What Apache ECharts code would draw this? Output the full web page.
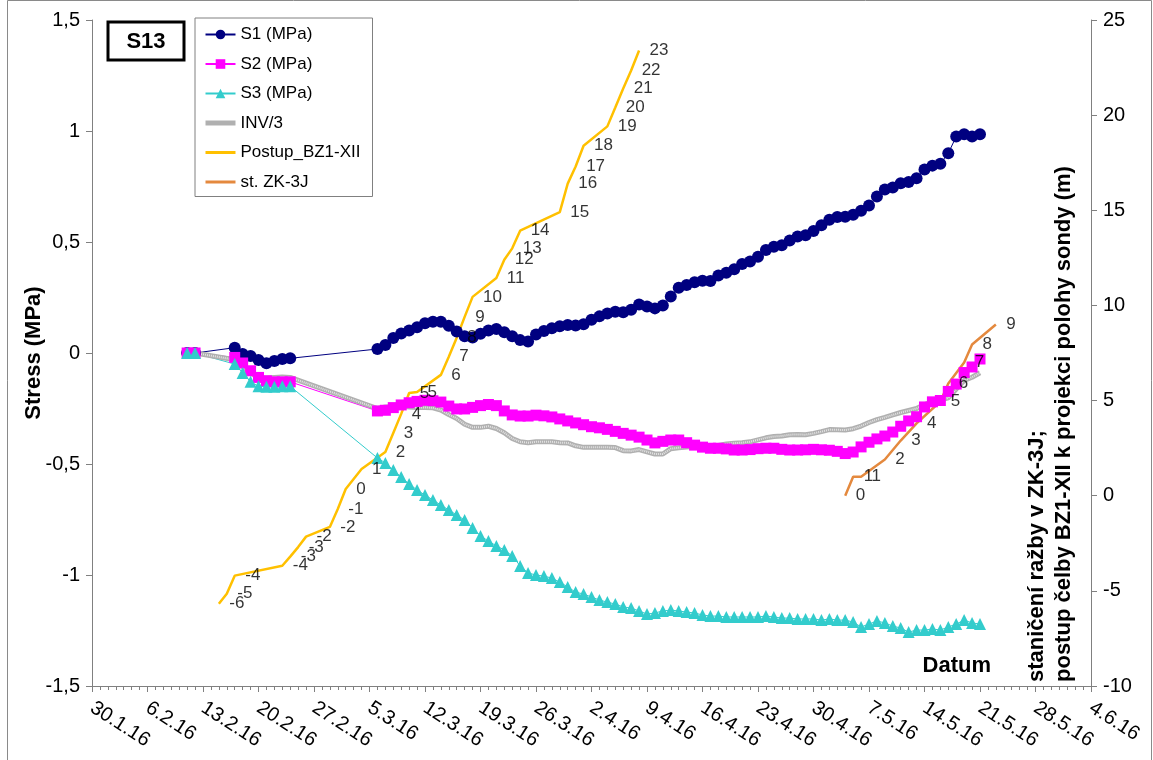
<!DOCTYPE html>
<html>
<head>
<meta charset="utf-8">
<script src="https://cdn.jsdelivr.net/npm/echarts@6/dist/echarts.min.js"></script>
<style>
html,body{margin:0;padding:0;background:#fff;}
#chart{width:1153px;height:760px;}
</style>
</head>
<body>
<div id="chart"></div>
<script>
// ---------- data ----------
const xTickLabels = ['30.1.16','6.2.16','13.2.16','20.2.16','27.2.16','5.3.16','12.3.16','19.3.16','26.3.16','2.4.16','9.4.16','16.4.16','23.4.16','30.4.16','7.5.16','14.5.16','21.5.16','28.5.16','4.6.16'];

const stressDates = [
'2016-02-11','2016-02-12',
'2016-02-17','2016-02-18','2016-02-19','2016-02-20','2016-02-21','2016-02-22','2016-02-23','2016-02-24',
'2016-03-06','2016-03-07','2016-03-08','2016-03-09','2016-03-10','2016-03-11','2016-03-12','2016-03-13','2016-03-14','2016-03-15',
'2016-03-16','2016-03-17','2016-03-18','2016-03-19','2016-03-20','2016-03-21','2016-03-22','2016-03-23','2016-03-24','2016-03-25',
'2016-03-26','2016-03-27','2016-03-28','2016-03-29','2016-03-30','2016-03-31','2016-04-01','2016-04-02','2016-04-03','2016-04-04',
'2016-04-05','2016-04-06','2016-04-07','2016-04-08','2016-04-09','2016-04-10','2016-04-11','2016-04-12','2016-04-13','2016-04-14',
'2016-04-15','2016-04-16','2016-04-17','2016-04-18','2016-04-19','2016-04-20','2016-04-21','2016-04-22','2016-04-23','2016-04-24',
'2016-04-25','2016-04-26','2016-04-27','2016-04-28','2016-04-29','2016-04-30','2016-05-01','2016-05-02','2016-05-03','2016-05-04',
'2016-05-05','2016-05-06','2016-05-07','2016-05-08','2016-05-09','2016-05-10','2016-05-11','2016-05-12','2016-05-13','2016-05-14',
'2016-05-15','2016-05-16','2016-05-17','2016-05-18','2016-05-19','2016-05-20','2016-05-21'
];

const s1 = [0,0,
0.024,-0.005,-0.014,-0.032,-0.046,-0.036,-0.027,-0.024,
0.018,0.036,0.068,0.088,0.101,0.116,0.134,0.141,0.141,0.123,
0.097,0.075,0.070,0.087,0.101,0.108,0.093,0.075,0.058,0.052,
0.083,0.099,0.111,0.121,0.126,0.124,0.129,0.150,0.165,0.178,
0.186,0.184,0.195,0.218,0.209,0.201,0.214,0.254,0.294,0.306,
0.319,0.325,0.324,0.349,0.362,0.377,0.401,0.412,0.434,0.464,
0.479,0.485,0.507,0.525,0.530,0.550,0.575,0.600,0.613,0.614,
0.623,0.641,0.664,0.705,0.737,0.746,0.765,0.770,0.787,0.827,
0.844,0.853,0.900,0.975,0.985,0.975,0.985];

const s2 = [0,0,
-0.02,-0.045,-0.08,-0.11,-0.125,-0.13,-0.13,-0.13,
-0.261,-0.258,-0.246,-0.234,-0.224,-0.218,-0.213,-0.215,-0.221,-0.239,
-0.252,-0.252,-0.245,-0.237,-0.232,-0.237,-0.261,-0.279,-0.284,-0.284,
-0.280,-0.283,-0.288,-0.297,-0.306,-0.315,-0.323,-0.332,-0.337,-0.344,
-0.353,-0.362,-0.370,-0.379,-0.392,-0.405,-0.398,-0.392,-0.392,-0.404,
-0.415,-0.424,-0.429,-0.429,-0.432,-0.437,-0.437,-0.435,-0.431,-0.429,
-0.429,-0.434,-0.437,-0.437,-0.436,-0.434,-0.436,-0.438,-0.443,-0.453,
-0.446,-0.423,-0.402,-0.387,-0.374,-0.356,-0.330,-0.306,-0.287,-0.243,
-0.220,-0.214,-0.173,-0.140,-0.088,-0.063,-0.027];

const s3 = [0,0,
-0.05,-0.09,-0.13,-0.15,-0.152,-0.152,-0.15,-0.15,
-0.473,-0.495,-0.527,-0.559,-0.590,-0.617,-0.640,-0.662,-0.685,-0.707,
-0.730,-0.752,-0.788,-0.824,-0.847,-0.869,-0.887,-0.914,-0.959,-0.991,
-1.000,-1.005,-1.014,-1.032,-1.054,-1.077,-1.086,-1.099,-1.113,-1.122,
-1.131,-1.144,-1.149,-1.162,-1.176,-1.171,-1.162,-1.158,-1.162,-1.167,
-1.171,-1.180,-1.185,-1.185,-1.189,-1.189,-1.189,-1.189,-1.189,-1.185,
-1.189,-1.194,-1.194,-1.198,-1.198,-1.198,-1.203,-1.198,-1.203,-1.203,
-1.212,-1.234,-1.221,-1.207,-1.216,-1.230,-1.239,-1.257,-1.248,-1.248,
-1.243,-1.248,-1.234,-1.221,-1.203,-1.216,-1.221];

const inv3 = [0,0,
-0.03,-0.06,-0.09,-0.11,-0.113,-0.11,-0.108,-0.11,
-0.250,-0.243,-0.241,-0.239,-0.243,-0.245,-0.245,-0.247,-0.257,-0.277,
-0.295,-0.321,-0.335,-0.335,-0.330,-0.340,-0.359,-0.385,-0.400,-0.404,
-0.400,-0.400,-0.400,-0.404,-0.405,-0.418,-0.425,-0.425,-0.425,-0.425,
-0.426,-0.440,-0.441,-0.435,-0.445,-0.455,-0.455,-0.431,-0.427,-0.423,
-0.420,-0.428,-0.430,-0.417,-0.410,-0.406,-0.404,-0.400,-0.391,-0.382,
-0.376,-0.374,-0.368,-0.367,-0.368,-0.362,-0.354,-0.345,-0.346,-0.347,
-0.341,-0.329,-0.313,-0.300,-0.290,-0.279,-0.268,-0.259,-0.250,-0.232,
-0.219,-0.212,-0.202,-0.162,-0.124,-0.109,-0.089];

const postupDates = ['2016-02-15','2016-02-16','2016-02-17','2016-02-23','2016-02-24','2016-02-25','2016-02-26','2016-02-29','2016-03-01','2016-03-02','2016-03-04','2016-03-07','2016-03-08','2016-03-09','2016-03-10','2016-03-11','2016-03-14','2016-03-15','2016-03-16','2016-03-17','2016-03-18','2016-03-21','2016-03-22','2016-03-23','2016-03-24','2016-03-29','2016-03-30','2016-03-31','2016-04-01','2016-04-04','2016-04-05','2016-04-06','2016-04-07','2016-04-08'];
const postup = [-5.68,-5.15,-4.2,-3.68,-3.2,-2.7,-2.15,-1.64,-0.7,0.35,1.4,2.3,3.3,4.3,5.4,5.45,6.35,7.3,8.3,9.4,10.45,11.44,12.4,13.0,13.93,14.9,16.4,17.3,18.39,19.41,20.4,21.4,22.35,23.4];
const postupLabels = ['-6','-5','-4','-4','-3','-3','-2','-2','-1','0','1','2','3','4','5','5','6','7','8','9','10','11','12','13','14','15','16','17','18','19','20','21','22','23'];

const zkDates = ['2016-05-04','2016-05-05','2016-05-06','2016-05-09','2016-05-11','2016-05-13','2016-05-16','2016-05-17','2016-05-19','2016-05-20','2016-05-23'];
const zk = [0,1,1,1.9,2.9,3.8,4.95,5.9,7.0,7.95,9.0];
const zkLabels = ['0','1','1','2','3','4','5','6','7','8','9'];

// ---------- helpers ----------
const BASE = Date.UTC(2016,0,30);
function dayOf(s){ const p = s.split('-').map(Number); return (Date.UTC(p[0],p[1]-1,p[2]) - BASE)/86400000; }
function pairs(dates, vals){ return vals.map((v,i)=>[dayOf(dates[i]), v]); }

const FONT = "'Liberation Sans', Arial, sans-serif";
const chart = echarts.init(document.getElementById('chart'), null, {renderer:'canvas'});

const option = {
  animation:false,
  backgroundColor:'#ffffff',
  textStyle:{fontFamily:FONT},
  grid:{left:92, right:62, top:20, bottom:74, containLabel:false},
  legend:{
    orient:'vertical', left:195, top:18,
    itemWidth:30, itemHeight:12, itemGap:12.5,
    padding:[8,12,6,8],
    borderColor:'#808080', borderWidth:1, backgroundColor:'#fff',
    textStyle:{fontFamily:FONT, fontSize:17, color:'#000'},
    data:['S1 (MPa)','S2 (MPa)','S3 (MPa)',
      {name:'INV/3', itemStyle:{opacity:0}, lineStyle:{width:5, color:'#b0b0b0'}},
      {name:'Postup_BZ1-XII', itemStyle:{opacity:0}, lineStyle:{width:3, color:'#FFC000'}},
      {name:'st. ZK-3J', itemStyle:{opacity:0}, lineStyle:{width:3, color:'#E4893E'}}]
  },
  xAxis:{
    type:'value', min:0, max:126, interval:7,
    axisLine:{onZero:false, lineStyle:{color:'#808080'}},
    axisTick:{length:6, lineStyle:{color:'#808080'}},
    minorTick:{show:true, splitNumber:7, length:4, lineStyle:{color:'#808080'}},
    splitLine:{show:false},
    axisLabel:{rotate:-33, margin:20, fontFamily:FONT, fontSize:20, color:'#000',
      formatter:v=>xTickLabels[Math.round(v/7)] || ''}
  },
  yAxis:[{
    type:'value', min:-1.5, max:1.5, interval:0.5, position:'left',
    axisLine:{show:true, onZero:false, lineStyle:{color:'#808080'}},
    axisTick:{show:true, length:6, lineStyle:{color:'#808080'}},
    splitLine:{show:false},
    axisLabel:{fontFamily:FONT, fontSize:20, color:'#000', margin:12,
      formatter:v=>String(v).replace('.',',')}
  },{
    type:'value', min:-10, max:25, interval:5, position:'right',
    axisLine:{show:true, onZero:false, lineStyle:{color:'#808080'}},
    axisTick:{show:true, length:6, lineStyle:{color:'#808080'}},
    splitLine:{show:false},
    axisLabel:{fontFamily:FONT, fontSize:20, color:'#000', margin:12}
  }],
  series:[
    {name:'S1 (MPa)', type:'line', yAxisIndex:0, data:pairs(stressDates,s1),
     symbol:'circle', symbolSize:12, color:'#000080', lineStyle:{width:1, color:'#000080'}, itemStyle:{color:'#000080'}},
    {name:'S2 (MPa)', type:'line', yAxisIndex:0, data:pairs(stressDates,s2),
     symbol:'rect', symbolSize:11, color:'#FF00FF', lineStyle:{width:1, color:'#FF00FF'}, itemStyle:{color:'#FF00FF'}},
    {name:'S3 (MPa)', type:'line', yAxisIndex:0, data:pairs(stressDates,s3),
     symbol:'triangle', symbolSize:12, color:'#33CCCC', lineStyle:{width:1, color:'#33CCCC'}, itemStyle:{color:'#33CCCC'}},
    {name:'INV/3', type:'line', yAxisIndex:0, data:pairs(stressDates,inv3),
     symbol:'none', color:'#b0b0b0', lineStyle:{width:5, color:'#b0b0b0'}},
    {name:'INV/3 tex', type:'line', yAxisIndex:0, data:pairs(stressDates,inv3),
     symbol:'none', silent:true, lineStyle:{width:2, color:'#e4e4e4', type:[1,1]}},
    {name:'Postup_BZ1-XII', type:'line', yAxisIndex:1, data:pairs(postupDates,postup),
     symbol:'none', color:'#FFC000', lineStyle:{width:2.5, color:'#FFC000'}},
    {name:'st. ZK-3J', type:'line', yAxisIndex:1, data:pairs(zkDates,zk),
     symbol:'none', color:'#E4893E', lineStyle:{width:2.5, color:'#E4893E'}},
    {name:'postupLbl', type:'scatter', yAxisIndex:1, z:20, data:pairs(postupDates,postup),
     symbol:'circle', symbolSize:1, itemStyle:{color:'rgba(0,0,0,0)'},
     label:{show:true, position:'right', distance:10, fontFamily:FONT, fontSize:17, color:'#000',
       formatter:p=>postupLabels[p.dataIndex]}},
    {name:'zkLbl', type:'scatter', yAxisIndex:1, z:20, data:pairs(zkDates,zk),
     symbol:'circle', symbolSize:1, itemStyle:{color:'rgba(0,0,0,0)'},
     label:{show:true, position:'right', distance:10, fontFamily:FONT, fontSize:17, color:'#000',
       formatter:p=>zkLabels[p.dataIndex]}}
  ],
  graphic:[
    {type:'rect', shape:{x:7.5, y:0.5, width:1144, height:800}, style:{fill:'none', stroke:'#8a8a8a', lineWidth:1}, silent:true, z:-10},
    {type:'rect', shape:{x:108, y:22, width:76, height:38}, style:{fill:'#fff', stroke:'#000', lineWidth:3}, z:10},
    {type:'text', x:146, y:42, z:11, style:{text:'S13', font:"bold 22px "+FONT, fill:'#000', align:'center', verticalAlign:'middle', textAlign:'center', textVerticalAlign:'middle'}},
    {type:'text', x:34, y:353, rotation:Math.PI/2, style:{text:'Stress (MPa)', font:"bold 22px "+FONT, fill:'#000', align:'center', verticalAlign:'middle', textAlign:'center', textVerticalAlign:'middle'}},
    {type:'text', x:1037, y:682, rotation:Math.PI/2, style:{text:'staničení ražby v ZK-3J;', font:"bold 22px "+FONT, fill:'#000', align:'left', verticalAlign:'middle', textAlign:'left', textVerticalAlign:'middle'}},
    {type:'text', x:1064, y:682, rotation:Math.PI/2, style:{text:'postup čelby BZ1-XII k projekci polohy sondy (m)', font:"bold 22px "+FONT, fill:'#000', align:'left', verticalAlign:'middle', textAlign:'left', textVerticalAlign:'middle'}},
    {type:'text', x:991, y:666, style:{text:'Datum', font:"bold 22px "+FONT, fill:'#000', align:'right', verticalAlign:'middle', textAlign:'right', textVerticalAlign:'middle'}}
  ]
};
chart.setOption(option);
</script>
</body>
</html>
